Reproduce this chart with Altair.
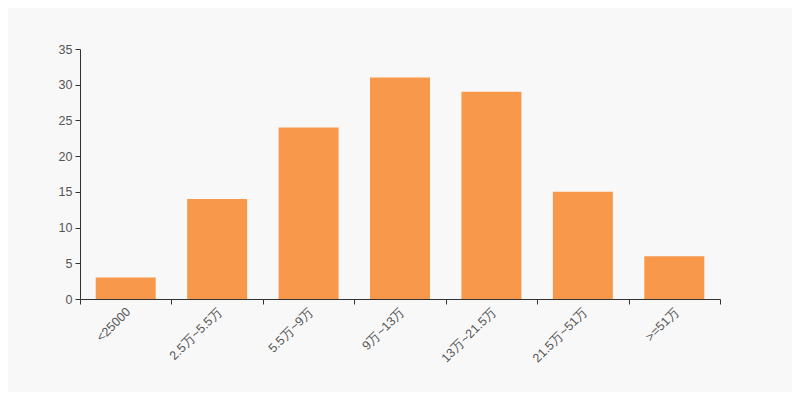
import altair as alt
import pandas as pd

categories = ["<25000", "2.5万~5.5万", "5.5万~9万", "9万~13万", "13万~21.5万", "21.5万~51万", ">=51万"]
values = [3, 14, 24, 31, 29, 15, 6]

df = pd.DataFrame({"cat": categories, "val": values})

font = "Liberation Sans"
chart = alt.Chart(df).mark_bar(color="#f7984a", width=alt.RelativeBandSize(0.656)).encode(
    x=alt.X("cat:N", sort=categories, title=None,
            scale=alt.Scale(paddingInner=0, paddingOuter=0),
            axis=alt.Axis(labelAngle=-45, tickBand="extent", labelColor="#555",
                          labelFontSize=12.5, labelFont=font, domainColor="#333",
                          tickColor="#333", tickSize=5, labelPadding=1,
                          labelOffset=-2)),
    y=alt.Y("val:Q", title=None,
            scale=alt.Scale(domain=[0, 35]),
            axis=alt.Axis(values=[0, 5, 10, 15, 20, 25, 30, 35], grid=False,
                          labelColor="#555", labelFontSize=12.5, labelFont=font,
                          domainColor="#333", tickColor="#333", tickSize=5,
                          labelPadding=3)),
).properties(
    width=640, height=250,
    autosize=alt.AutoSizeParams(type="none"),
    padding={"left": 72, "top": 41, "right": 72, "bottom": 93},
    background="#f8f8f8",
).configure_view(stroke=None)

chart.save("out.html", embed_options={"renderer": "svg", "actions": False})
